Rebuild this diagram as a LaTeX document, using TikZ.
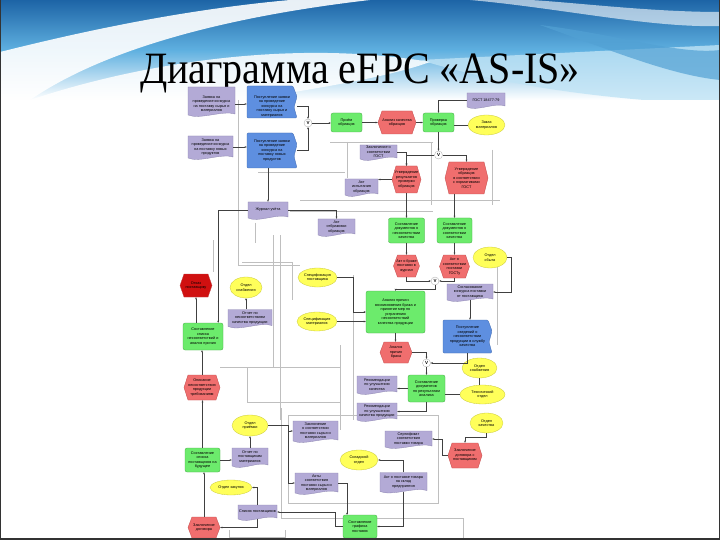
\documentclass[tikz,border=0pt]{standalone}
\usepackage{fontspec}
\setmainfont{Liberation Serif}
\newfontfamily\dfont{Liberation Sans}
\usetikzlibrary{arrows.meta,shapes.geometric}
\definecolor{fgreen}{HTML}{6CEB6C}
\definecolor{fgreenB}{HTML}{45A845}
\definecolor{fred}{HTML}{F06E6E}
\definecolor{fredB}{HTML}{C04848}
\definecolor{fdred}{HTML}{D01010}
\definecolor{fpurp}{HTML}{B3AAD6}
\definecolor{fpurpB}{HTML}{8C84B0}
\definecolor{fblue}{HTML}{5E8FE0}
\definecolor{fblueB}{HTML}{3E68B0}
\definecolor{fyel}{HTML}{FFFF5A}
\definecolor{fyelB}{HTML}{C8C83C}
\definecolor{bdark}{HTML}{1D64A6}
\definecolor{bmid}{HTML}{5FB0E0}
\definecolor{blight}{HTML}{BFE3F5}
\newcommand\dtext{\dfont\fontsize{3.8}{4.5}\selectfont}
\tikzset{
 txt/.style={inner sep=0pt, align=center, font=\dtext},
 docshape/.style={fill=fpurp, draw=fpurpB, line width=0.3pt},
 evshape/.style={draw=fredB, line width=0.3pt},
 blshape/.style={fill=fblue, draw=fblueB, line width=0.3pt, rounded corners=1.2pt},
 fnode/.style={txt, rounded corners=2pt, fill=fgreen, draw=fgreenB, line width=0.3pt},
 ynode/.style={txt, ellipse, fill=fyel, draw=fyelB, line width=0.3pt},
 vc/.style={circle, draw=gray!70, fill=white, line width=0.3pt, inner sep=0pt, minimum size=8, font=\dfont\fontsize{4.5}{5}\selectfont\bfseries},
 arr/.style={-{Stealth[length=2.2pt,width=1.8pt]}, draw=black!75, line width=0.35pt},
 ln/.style={draw=black!75, line width=0.35pt},
 gl/.style={draw=gray!50, line width=0.35pt},
}
% document: [text options] name, cx, cy, w, h, text
\newcommand\DOC[6][]{%
 \path[docshape] ({#3-#5/2},{#4-#6/2}) -- ({#3+#5/2},{#4-#6/2}) -- ({#3+#5/2},{#4+#6/2-1}) .. controls ({#3+#5/4},{#4+#6/2-5}) and ({#3-#5/4},{#4+#6/2+5}) .. ({#3-#5/2},{#4+#6/2}) -- cycle;
 \DOCtext{#1}{#2}{#3}{#4}{#5}{#6}}
\newcommand\DOCtext[7]{\node[txt, minimum width=#5, minimum height=#6, #1] (#2) at (#3,#4) {#7};}
% event: name, cx, cy, w, h, text, colour
\newcommand\EV[7]{%
 \path[evshape, fill=#7] ({#2-#4/2},{#3}) -- ({#2-#4/2+4},{#3-#5/2}) -- ({#2+#4/2-4},{#3-#5/2}) -- ({#2+#4/2},{#3}) -- ({#2+#4/2-4},{#3+#5/2}) -- ({#2-#4/2+4},{#3+#5/2}) -- cycle;
 \node[txt, minimum width=#4, minimum height=#5] (#1) at (#2,#3) {#6};}
% process interface (blue): [text options] name, cx, cy, w, h, then text
\newcommand\BL[6][]{%
 \path[blshape] ({#3-#5/2},{#4-#6/2}) -- ({#3+#5/2-4},{#4-#6/2}) -- ({#3+#5/2},{#4-#6/6}) -- ({#3+#5/2-3},{#4+#6/6}) -- ({#3+#5/2},{#4+#6/2}) -- ({#3-#5/2},{#4+#6/2}) -- cycle;
 \DOCtext{#1}{#2}{#3}{#4}{#5}{#6}}
\newcommand\GN[6]{\node[fnode, minimum width=#4, minimum height=#5] (#1) at (#2,#3) {#6};}
\newcommand\YE[6]{\node[ynode, minimum width=#4, minimum height=#5] (#1) at (#2,#3) {#6};}
\begin{document}
\begin{tikzpicture}[x=1pt,y=-1pt]
\useasboundingbox (0,0) rectangle (720,540);
\fill[white] (0,0) rectangle (720,540);
% banner
\shade[top color=bdark, bottom color=bmid] (0,0) rectangle (720,50);
\shade[top color=bmid, bottom color=white] (0,50) rectangle (720,100);
\fill[blight, opacity=0.8] (420,60) .. controls (520,55) and (620,50) .. (720,45) -- (720,105) .. controls (620,100) and (520,90) .. (420,60) -- cycle;
\fill[bmid!80!bdark, opacity=0.7] (540,25) .. controls (620,35) and (680,55) .. (720,50) -- (720,80) .. controls (670,75) and (610,50) .. (540,25) -- cycle;
\fill[white, opacity=0.9] (0,100) -- (0,52) .. controls (80,32) and (180,10) .. (290,0) -- (370,0) .. controls (240,15) and (110,45) .. (30,100) -- cycle;
\fill[white, opacity=0.85] (0,100) -- (30,100) .. controls (150,60) and (300,40) .. (430,62) .. controls (380,80) and (300,90) .. (250,100) -- cycle;
\fill[white, opacity=0.6] (470,0) .. controls (560,8) and (650,28) .. (720,26) -- (720,12) .. controls (650,12) and (570,2) .. (530,0) -- cycle;
\fill[white] (0,100) rectangle (720,540);
\node[anchor=base, inner sep=0pt] (title) at (360,84) {\fontsize{40}{40}\selectfont\scalebox{1}[1.12]{Диаграмма eEPC «AS-IS»}};

% grey routing lines
\draw[gl] (238,100) -- (238,265) -- (300,265);
\draw[gl] (242,262) -- (292,262) -- (292,300);
\draw[gl] (258,172) -- (345,172);
\draw[gl] (330,142) -- (433,142);
\draw[gl] (347,142) -- (347,178);
\draw[gl] (431,143) -- (431,205);
\draw[gl] (492,150) -- (492,205);
\draw[gl] (300,200) -- (500,200);
\draw[gl] (290,211) -- (433,211);
\draw[gl] (213,240) -- (213,272);
\draw[gl] (273,235) -- (273,367);
\draw[gl] (280,235) -- (280,420);
\draw[gl] (220,367) -- (340,367);
\draw[gl] (247,367) -- (247,402) -- (340,402);
\draw[gl] (353,275) -- (353,420);
\draw[gl] (340,345) -- (340,430);
\draw[gl] (497,262) -- (497,345);
\draw[gl] (281,408) -- (281,518) -- (463,518) -- (463,540);
\draw[gl] (288,415) rectangle (438,503);
\draw[gl] (229,530) -- (229,537) -- (285,537) -- (285,530);
\draw[gl] (255,223) -- (255,243);

% row 1
\DOC[yshift=-3pt]{d1}{211.5}{101}{47}{28}{Заявка на\\проведение конкурса\\на поставку сырья и\\материалов}
\BL[yshift=-4.5pt]{b1}{272}{102}{50}{32}{Поступление заявки\\на проведение\\конкурса на\\поставку сырья и\\материалов}
\DOC{d2}{210.5}{147}{45}{22}{Заявка на\\проведение конкурса\\на поставку новых\\продуктов}
\BL{b2}{272}{150.5}{50}{35}{Поступление заявки\\на проведение\\конкурса на\\поставку новых\\продуктов}
\node[vc] (v1) at (308,123) {V};
\GN{pri}{346.5}{122.5}{31}{19}{Приём\\образцов}
\EV{r1}{397}{122.5}{38}{23}{Анализ качества\\образцов}{fred}
\GN{g2}{438.5}{122.5}{31}{19}{Проверка\\образцов}
\DOC{gost}{486}{100}{38}{14}{ГОСТ 18477-79}
\YE{y1}{486.5}{125}{37}{20}{Заказ\\материалов}
% row 2
\DOC{zak}{378.5}{152}{37}{14}{Заключение о\\соответствии\\ГОСТ}
\node[vc] (v2) at (438.5,155) {V};
\EV{r2}{406.5}{179.5}{29}{27}{Утверждение\\результатов\\проверки\\образцов}{fred}
\EV{r3}{466.5}{178}{43}{32}{Утверждение\\образцов\\в соответствии\\с нормативами\\ГОСТ}{fred}
\DOC{aktI}{361.5}{187}{33}{16}{Акт\\испытания\\образцов}
% row 3
\DOC{jr}{268}{210}{40}{16}{Журнал учёта}
\DOC{aktO}{336.5}{227}{37}{16}{Акт\\отбраковки\\образцов}
\GN{g3}{406.5}{230.5}{36}{25}{Составление\\документов о\\несоответствии\\качества}
\GN{g4}{454.5}{230.5}{35}{25}{Составление\\документов о\\соответствии\\качества}
\EV{r4}{406.5}{266}{26}{22}{Акт о браке\\поставки в\\журнал}{fred}
\EV{r5}{454.5}{266.5}{30}{23}{Акт о\\соответствии\\поставки\\ГОСТу}{fred}
\node[vc] (v3) at (435,281) {V};
\YE{y2}{490}{257.5}{34}{21}{Отдел\\сбыта}
\DOC{dS}{470}{292}{46}{16}{Согласование\\конкурса поставки\\от поставщика}
\EV{rD}{196}{285.5}{32}{23}{Отказ\\поставщику}{fdred}
\YE{y3}{246}{287.5}{32}{21}{Отдел\\снабжения}
\YE{y4}{317.5}{277.5}{39}{19}{Спецификация\\поставщика}
% middle
\GN{gB}{395.5}{312}{59}{42}{Анализ причин\\возникновения брака и\\принятие мер по\\устранению\\несоответствий\\качества продукции}
\DOC{dN}{250}{318}{44}{17}{Отчет по\\несоответствиям\\качества продукции}
\YE{y5}{317}{321.5}{40}{19}{Спецификация\\материалов}
\GN{gS}{203}{336.5}{40}{27}{Составление\\списка\\несоответствий и\\анализ причин}
\BL{bP}{467.5}{336.5}{49}{33}{Поступление\\сведений о\\несоответствии\\продукции в службу\\качества}
\EV{r6}{396}{352.5}{32}{21}{Анализ\\причин\\брака}{fred}
\node[vc] (v4) at (426.5,363) {V};
\YE{y6}{479.5}{368}{35}{20}{Отдел\\снабжения}
\YE{y7}{482.5}{394.5}{45}{19}{Технический\\отдел}
\EV{rO}{202}{387.5}{36}{25}{Описание\\несоответствия\\продукции\\требованиям}{fred}
\DOC{dR1}{377}{384.5}{40}{17}{Рекомендации\\по улучшению\\качества}
\GN{gR}{426.5}{388.5}{37}{27}{Составление\\документов\\по результатам\\анализа}
\DOC{dR2}{377}{411.5}{40}{17}{Рекомендации\\по улучшению\\качества продукции}
% bottom
\YE{y8}{486.5}{423}{33}{20}{Отдел\\качества}
\YE{y9}{250}{425.5}{36}{21}{Отдел\\приёмки}
\DOC{dC1}{315.5}{431}{45}{20}{Заключение\\о соответствии\\поставки сырья и\\материалов}
\DOC{dSe}{408.5}{439}{47}{16}{Сертификат\\соответствия\\поставки товара}
\EV{rK}{465}{455.5}{34}{25}{Заключение\\договора с\\поставщиком}{fred}
\YE{y10}{359}{460}{38}{20}{Складской\\отдел}
\GN{gL}{202.5}{460}{35}{24}{Составление\\списка\\поставщиков на\\будущее}
\DOC{dOt}{250}{457}{36}{18}{Отчет по\\поставщикам\\материалов}
\YE{y11}{231}{487.5}{42}{15}{Отдел закупок}
\DOC{dC2}{316.5}{483}{43}{20}{Акты\\соответствия\\поставки сырья и\\материалов}
\DOC{dAk}{403.5}{482}{47}{19}{Акт о поставке товара\\на склад\\предприятия}
\DOC{dL}{257.5}{512}{39}{14}{Список поставщиков}
\EV{rZ}{204}{527.5}{32}{21}{Заключение\\договора}{fred}
\GN{gG}{360}{526.5}{34}{23}{Составление\\графика\\поставок}

% connectors
\draw[arr] (d1.east) -- (d1.east -| b1.west);
\draw[arr] (d2.east) -- (d2.east -| b2.west);
\draw[arr] (b1.east) -| (v1.north);
\draw[arr] (b2.east) -| (v1.south);
\draw[arr] (v1.east) -- (v1.east -| pri.west);
\draw[arr] (pri.east) -- (pri.east -| r1.west);
\draw[arr] (r1.east) -- (r1.east -| g2.west);
\draw[ln] (y1.west) -- (y1.west -| g2.east);
\draw[arr] (gost.west) -| (g2.north);
\draw[arr] (g2.south) -- (v2.north);
\draw[arr] (v2.west) -| (r2.north);
\draw[arr] (v2.east) -| (r3.north);
\draw[arr] (zak.east) -| (r2.north);
\draw[arr] (r2.west) -- (r2.west -| aktI.east);
\draw[arr] (r2.south) -- (g3.north);
\draw[arr] (g4.north |- r3.south) -- (g4.north);
\draw[arr] (g3.south) -- (r4.north);
\draw[arr] (g4.south) -- (r5.north);
\draw[arr] (r4.south) |- (v3.west);
\draw[arr] (r5.south) |- (v3.east);
\draw[arr] (v3.south) -- ++(0,4) -| (gB.north);
\draw[arr] (y2.east) -- ++(4,0) |- (dS.east);
\draw[arr] (dS.south) -- (dS.south |- bP.north);
\draw[arr] (gB.south) -- (gB.south |- r6.north);
\draw[arr] (r6.east) -| (v4.north);
\draw[arr] (bP.south) |- (v4.east);
\draw[arr] (v4.south) -- (gR.north);
\draw[arr] (gR.west) -- (gR.west -| dR1.east);
\draw[arr] (gR.south) |- (dR2.east);
\draw[ln] (y6.south) -- (y6.south |- y7.north);
\draw[ln] (y7.west) -- (y7.west -| gR.east);
\draw[arr] (y8.south) -- ++(0,4) -| (rK.north);
\draw[arr] (rK.west) -- ++(-6,0) |- (dSe.east);
\draw[arr] (dAk.north) |- (y10.east);
\draw[arr] (gG.west) -- ++(-8,0) |- (dL.east);
\draw[arr] (dL.south) |- (rZ.east);
\draw[arr] (rZ.north) -- (rZ.north |- gL.south);
\draw[arr] (gL.north) -- (gL.north |- rO.south);
\draw[arr] (rO.north) -- (rO.north |- gS.south);
\draw[arr] (rD.south |- gS.north) -- (rD.south);
\draw[arr] (gL.east) -- (gL.east -| dOt.west);
\draw[arr] (dOt.north) -- (dOt.north |- y9.south);
\draw[arr] (dL.north) |- (y11.east);
\draw[arr] (y3.south |- dN.north) -- (y3.south);
\draw[arr] (jr.west) -| ([xshift=-5pt]gS.north east);
\draw[arr] (jr.east) -| (aktO.north);
\draw[arr] (jr.north |- b2.south) -- (jr.north);
\draw[arr] (y4.east) -- ++(16,0) |- (gB.west);
\draw[arr] (y5.east) -- (y5.east -| gB.west);
\draw[arr] (y9.east) -- ++(20,0) |- (dC1.west);
\draw[arr] (y9.east) -- ++(20,0) |- (dC2.west);
\draw[arr] (dC2.east) -| ([xshift=-13pt]gG.north);
\draw[arr] (dAk.south) |- (gG.east);

% slide frame
\draw[black!80, line width=1pt] (0.5,0) -- (0.5,539);
\draw[black!80, line width=1pt] (719.5,0) -- (719.5,539);
\draw[black!80, line width=2.5pt] (0,538.75) -- (720,538.75);
\end{tikzpicture}
\end{document}
